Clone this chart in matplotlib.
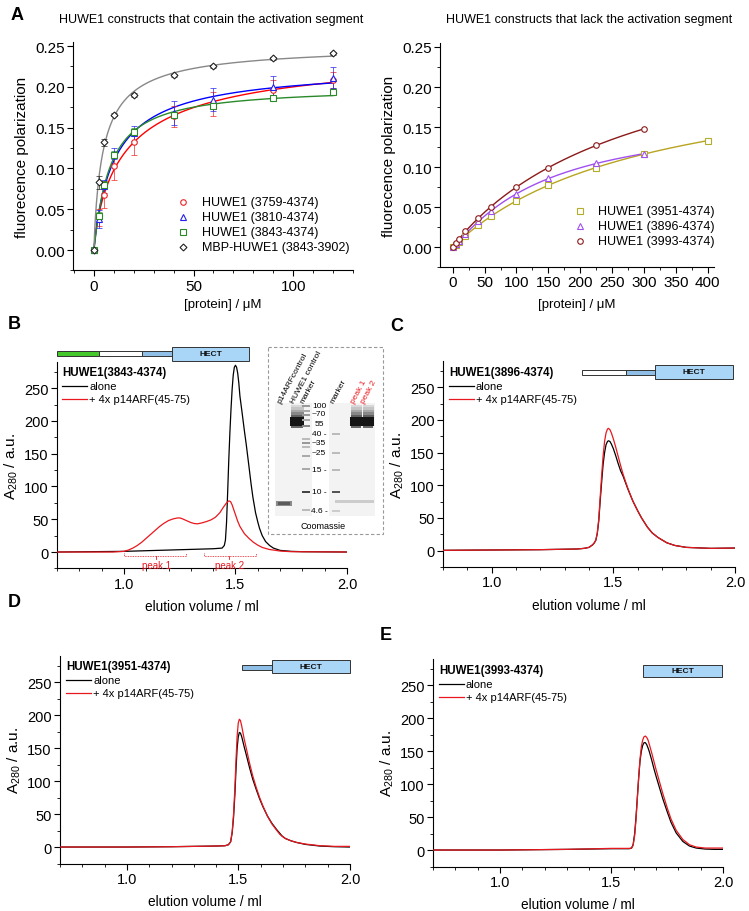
import numpy as np
import matplotlib
matplotlib.use('Agg')
import matplotlib.pyplot as plt
from matplotlib.patches import Rectangle
from matplotlib.ticker import MultipleLocator, FormatStrFormatter

plt.rcParams['font.family'] = ['Liberation Sans', 'DejaVu Sans']
plt.rcParams['mathtext.fontset'] = 'custom'
plt.rcParams['mathtext.rm'] = 'Liberation Sans'
plt.rcParams['mathtext.it'] = 'Liberation Sans'

# ---------------- Panel A data ----------------
conc_left = [0, 2.5, 5, 10, 20, 40, 60, 90, 120]
fp_3759 = [0, 0.040, 0.068, 0.103, 0.132, 0.164, 0.179, 0.196, 0.208]
err_3759 = [0, 0.010, 0.017, 0.017, 0.016, 0.013, 0.015, 0.012, 0.010]
fp_3810 = [0, 0.038, 0.078, 0.118, 0.143, 0.168, 0.184, 0.200, 0.211]
err_3810 = [0, 0.011, 0.008, 0.007, 0.009, 0.015, 0.014, 0.013, 0.013]
fp_3843 = [0, 0.042, 0.080, 0.117, 0.145, 0.165, 0.176, 0.186, 0.194]
err_3843 = [0, 0.004, 0.004, 0.004, 0.005, 0.003, 0.003, 0.003, 0.002]
fp_mbp = [0, 0.083, 0.132, 0.166, 0.190, 0.214, 0.225, 0.235, 0.241]
err_mbp = [0, 0.008, 0.004, 0.002, 0.002, 0.002, 0.002, 0.002, 0.002]
labels_left = ['HUWE1 (3759-4374)', 'HUWE1 (3810-4374)', 'HUWE1 (3843-4374)', 'MBP-HUWE1 (3843-3902)']

conc_right = [0, 5, 10, 20, 40, 60, 100, 150, 225, 300]
conc_right_3951 = [0, 5, 10, 20, 40, 60, 100, 150, 225, 300, 400]
fp_3951 = [0, 0.003, 0.006, 0.014, 0.028, 0.039, 0.058, 0.077, 0.099, 0.116, 0.133]
fp_3896 = [0, 0.004, 0.008, 0.016, 0.032, 0.045, 0.066, 0.086, 0.105, 0.116]
fp_3993 = [0, 0.005, 0.010, 0.020, 0.036, 0.050, 0.075, 0.099, 0.128, 0.147]
labels_right = ['HUWE1 (3951-4374)', 'HUWE1 (3896-4374)', 'HUWE1 (3993-4374)']

# ---------------- Chromatograms (elution volume / ml, A280) ----------------
vB_black = [0.70, 1.00, 1.20, 1.30, 1.40, 1.44, 1.45, 1.455, 1.46, 1.465, 1.47, 1.475, 1.48, 1.485, 1.49,
            1.495, 1.50, 1.505, 1.51, 1.515, 1.52, 1.53, 1.54, 1.548, 1.56, 1.57, 1.578, 1.59, 1.60, 1.608,
            1.62, 1.635, 1.653, 1.67, 1.70, 1.75, 1.80, 2.00]
aB_black = [0, 1, 3, 4, 5, 6, 10, 18, 45, 91, 140, 182, 218, 248, 270,
            282, 285, 282, 273, 258, 238, 212, 185, 165, 132, 104, 84, 60, 46, 36,
            25, 16, 10, 6, 2.5, 1, 0.5, 0]
vB_red = [0.70, 0.95, 1.00, 1.02, 1.04, 1.06, 1.08, 1.10, 1.12, 1.14, 1.16, 1.18, 1.20, 1.22, 1.24, 1.25,
          1.26, 1.28, 1.30, 1.315, 1.33, 1.35, 1.37, 1.39, 1.41, 1.43, 1.445, 1.46, 1.47, 1.478, 1.485,
          1.49, 1.50, 1.51, 1.52, 1.54, 1.56, 1.58, 1.60, 1.62, 1.65, 1.70, 1.75, 2.00]
aB_red = [0, 0, 1, 3, 6, 10, 15, 21, 27, 33, 39, 44, 48, 50.5, 52, 52,
          51, 48, 45, 43.5, 43, 44.5, 46.5, 49, 53, 60, 68, 75, 78, 77, 72,
          67, 57, 47, 39, 28, 21, 15, 10.5, 7, 4, 1.5, 0.5, 0]

vC = [0.80, 1.00, 1.20, 1.35, 1.38, 1.40, 1.415, 1.422, 1.428, 1.434, 1.44, 1.446, 1.452, 1.458, 1.464,
      1.47, 1.476, 1.48, 1.486, 1.492, 1.50, 1.51, 1.52, 1.53, 1.54, 1.548, 1.56, 1.58, 1.60, 1.616,
      1.64, 1.66, 1.684, 1.72, 1.752, 1.80, 1.90, 2.00]
aC_black = [0.5, 1, 1.5, 2.5, 3.5, 5, 9, 12, 16, 26, 45, 76, 105, 132, 150,
            162, 167, 168, 167, 163, 156, 145, 133, 122, 114, 106, 94, 76, 61, 50,
            36, 27, 20, 12, 8, 5, 3.5, 4]
aC_red = [0.5, 1, 1.5, 2.5, 3.5, 5, 9, 12, 16, 27, 48, 82, 115, 145, 167,
          180, 186, 187, 185, 180, 171, 158, 144, 130, 117, 108, 95, 76, 61, 50,
          36, 27, 20, 12, 8, 5, 3.5, 4]

vD = [0.70, 1.00, 1.20, 1.40, 1.44, 1.455, 1.465, 1.472, 1.478, 1.484, 1.489, 1.494, 1.499, 1.504,
      1.509, 1.515, 1.525, 1.535, 1.55, 1.564, 1.58, 1.595, 1.61, 1.63, 1.65, 1.67, 1.685, 1.695,
      1.71, 1.735, 1.76, 1.80, 1.865, 1.93, 2.00]
aD_black = [0, 0, 0.5, 1.5, 2, 3.5, 8, 22, 45, 80, 118, 150, 167, 174,
            173, 167, 153, 140, 120, 103, 87, 73, 61, 47, 36, 27, 21, 17,
            13, 9.5, 7, 4, 1.5, 0.5, 0]
aD_red = [0, 0, 0.5, 1.5, 2, 3.5, 8, 24, 50, 90, 132, 168, 188, 194,
          192, 183, 165, 150, 127, 108, 90, 75, 62, 47, 35, 26, 19.5, 16.5,
          13, 9.5, 7, 4.5, 2, 1, 1]

vE = [0.70, 1.00, 1.30, 1.50, 1.58, 1.59, 1.597, 1.604, 1.61, 1.616, 1.622, 1.628, 1.634, 1.64, 1.646,
      1.652, 1.658, 1.664, 1.67, 1.68, 1.69, 1.70, 1.715, 1.73, 1.75, 1.767, 1.79, 1.82, 1.85, 1.88,
      1.92, 1.96, 2.00]
aE_black = [0, 0, 1, 2, 2, 3, 8, 25, 50, 80, 110, 135, 150, 159, 163,
            163, 160, 155, 149, 137, 124, 112, 95, 78, 58, 42, 26, 13, 6, 3,
            1.5, 1, 1]
aE_red = [0, 0, 1, 2.5, 2.5, 3, 7, 22, 46, 78, 110, 138, 157, 167, 172,
          173, 171, 167, 160, 148, 135, 122, 104, 86, 64, 47, 30, 16, 8, 4.5,
          3, 3, 3]

# ---------------- Gel inset (pixel layout) ----------------
gel_lane_labels = ['p14ARFcontrol', 'HUWE1 control', 'marker', 'marker', 'peak 1', 'peak 2']
gel_lane_x = [283, 297, 306, 336, 357, 367]
marker_kda = ['100', '~70', '55', '40 -', '~35', '~25', '15 -', '10 -', '4.6 -']
marker_y = [407, 415, 425, 435, 444, 454, 471, 493, 512]

W, H = 749, 912
fig = plt.figure(figsize=(W / 100, H / 100), dpi=100)


def add_ax(x0, x1, y0, y1):
    return fig.add_axes([x0 / W, 1 - y1 / H, (x1 - x0) / W, (y1 - y0) / H])


def style(ax, xmaj, xmin, ymaj, ymin, fs, xfmt, yfmt):
    for s in ['top', 'right']:
        ax.spines[s].set_visible(False)
    for s in ['left', 'bottom']:
        ax.spines[s].set_linewidth(0.8)
    ax.xaxis.set_major_locator(MultipleLocator(xmaj))
    ax.xaxis.set_minor_locator(MultipleLocator(xmin))
    ax.yaxis.set_major_locator(MultipleLocator(ymaj))
    ax.yaxis.set_minor_locator(MultipleLocator(ymin))
    ax.xaxis.set_major_formatter(FormatStrFormatter(xfmt))
    ax.yaxis.set_major_formatter(FormatStrFormatter(yfmt))
    ax.tick_params(which='major', direction='out', length=4, width=0.8, labelsize=fs, pad=2)
    ax.tick_params(which='minor', direction='out', length=2, width=0.6)


def fit_hill(x, y):
    """Least-squares Hill fit y = B x^n / (K^n + x^n) (grid over K, n; B closed form)."""
    x = np.asarray(x, float)[None, None, :]
    y = np.asarray(y, float)[None, None, :]
    K = np.logspace(-0.5, 3.5, 400)[:, None, None]
    n = np.linspace(0.5, 1.6, 45)[None, :, None]
    xn = x ** n
    f = xn / (K ** n + xn)
    B = np.sum(y * f, axis=2, keepdims=True) / np.sum(f * f, axis=2, keepdims=True)
    r = np.sum((y - B * f) ** 2, axis=2)
    i, j = np.unravel_index(np.argmin(r), r.shape)
    return K[i, 0, 0], n[0, j, 0], B[i, j, 0]


def hill_curve(x, y, npts=300):
    K, nn, B = fit_hill(x, y)
    xs = np.linspace(0, max(x), npts)
    return xs, B * xs ** nn / (K ** nn + xs ** nn)


# ---------------- Panel A left ----------------
axA = add_ax(73, 353, 43, 271.4)
axA.set_xlim(-10.5, 130)
axA.set_ylim(-0.025, 0.255)
style(axA, 50, 10, 0.05, 0.025, 11, '%d', '%.2f')
series_left = [
    (fp_3759, err_3759, 'o', '#ee2222', 'red'),
    (fp_3810, err_3810, '^', '#2222ee', 'blue'),
    (fp_3843, err_3843, 's', '#2a8a2a', '#2a8a2a'),
    (fp_mbp, err_mbp, 'D', '#222222', '#888888'),
]
for fp, er, mk, mc, lc in series_left:
    xs, ys = hill_curve(conc_left, fp)
    axA.plot(xs, ys, color=lc, lw=1.0, zorder=2)
    axA.errorbar(conc_left, fp, yerr=er, fmt='none', ecolor=mc, elinewidth=0.7, capsize=2, capthick=0.7,
                 alpha=0.7, zorder=3)
    axA.plot(conc_left, fp, ls='none', marker=mk, ms=4 if mk != 'D' else 3.5, mfc='white', mec=mc, mew=0.8,
             zorder=4)
axA.set_ylabel('fluorecence polarization', fontsize=11, labelpad=4)
axA.set_xlabel('[protein] / \u03bcM', fontsize=9.5, labelpad=6)
axA.xaxis.set_label_coords(0.536, -0.12)

# ---------------- Panel A right ----------------
axR = add_ax(440, 714, 44, 268)
axR.set_xlim(-20, 410)
axR.set_ylim(-0.025, 0.255)
style(axR, 50, 25, 0.05, 0.025, 11, '%d', '%.2f')
series_right = [
    (conc_right_3951, fp_3951, 's', '#b3ad2a', '#b8a520'),
    (conc_right, fp_3896, '^', '#a050f0', '#a050f0'),
    (conc_right, fp_3993, 'o', '#8b1a1a', '#8b1a1a'),
]
for xx, fp, mk, mc, lc in series_right:
    xs, ys = hill_curve(xx, fp)
    axR.plot(xs, ys, color=lc, lw=1.0, zorder=2)
    axR.plot(xx, fp, ls='none', marker=mk, ms=4, mfc='white', mec=mc, mew=0.8, zorder=4)
axR.set_ylabel('fluorecence polarization', fontsize=11, labelpad=4)
axR.set_xlabel('[protein] / \u03bcM', fontsize=9.5, labelpad=6)


# ---------------- Chromatogram panels ----------------
def chrom(box, xlim, vb, ab, vr, ar):
    ax = add_ax(*box)
    ax.set_xlim(*xlim)
    ax.set_ylim(-25, 290)
    style(ax, 0.5, 0.1, 50, 25, 10.5, '%.1f', '%d')
    ax.plot(vb, ab, color='black', lw=0.9, zorder=3, solid_joinstyle='round')
    ax.plot(vr, ar, color='#e8181e', lw=0.9, zorder=4, solid_joinstyle='round')
    ax.set_xlabel('elution volume / ml', fontsize=9.8, labelpad=6)
    ax.set_ylabel('A$_{280}$ / a.u.', fontsize=11, labelpad=3)
    return ax

axB = chrom((57, 347, 363, 569.4), (0.7, 2.0), vB_black, aB_black, vB_red, aB_red)
axC = chrom((443, 735, 362, 568), (0.8, 2.0), vC, aC_black, vC, aC_red)
axD = chrom((60, 350, 657, 864.5), (0.7, 2.0), vD, aD_black, vD, aD_red)
axE = chrom((433, 723, 660, 867.5), (0.7, 2.0), vE, aE_black, vE, aE_red)

# peak brackets in B
for (x0, x1, xc, lab) in [(1.0, 1.28, 1.145, 'peak 1'), (1.36, 1.593, 1.473, 'peak 2')]:
    axB.plot([x0, x0, x1, x1], [-2, -6, -6, -2], color='#e8181e', lw=0.6, ls=(0, (1, 1)))
    axB.plot([xc, xc], [-6, -11], color='#e8181e', lw=0.6)
    axB.text(xc, -12, lab, color='#e8181e', fontsize=7, ha='center', va='top')

# ---------------- Overlay (pixel coordinates) ----------------
ov = fig.add_axes([0, 0, 1, 1], zorder=10)
ov.set_xlim(0, W)
ov.set_ylim(H, 0)
ov.axis('off')
ov.patch.set_visible(False)

ov.text(211, 20, 'HUWE1 constructs that contain the activation segment', fontsize=9, ha='center', va='center')
ov.text(589, 20, 'HUWE1 constructs that lack the activation segment', fontsize=9, ha='center', va='center')
for lt, x, y in [('A', 17, 15), ('B', 14, 325), ('C', 397, 327), ('D', 14, 603), ('E', 386, 636)]:
    ov.text(x, y, lt, fontsize=13, fontweight='bold', ha='center', va='center')

for i, (lab, (fp, er, mk, mc, lc)) in enumerate(zip(labels_left, series_left)):
    y = 203 + 15 * i
    ov.plot([183], [y], marker=mk, ms=4 if mk != 'D' else 3.5, mfc='white', mec=mc, mew=0.8)
    ov.text(202, y, lab, fontsize=9, ha='left', va='center')
for i, (lab, (xx, fp, mk, mc, lc)) in enumerate(zip(labels_right, series_right)):
    y = 212 + 15 * i
    ov.plot([580], [y], marker=mk, ms=4, mfc='white', mec=mc, mew=0.8)
    ov.text(598, y, lab, fontsize=9, ha='left', va='center')

for title, x, y in [('HUWE1(3843-4374)', 62, 373), ('HUWE1(3896-4374)', 449, 373),
                    ('HUWE1(3951-4374)', 66, 667), ('HUWE1(3993-4374)', 439, 671)]:
    ov.text(x, y, title, fontsize=8.3, fontweight='bold', ha='left', va='center')
    ov.plot([x, x + 25], [y + 14, y + 14], color='black', lw=0.9)
    ov.text(x + 27, y + 14, 'alone', fontsize=8, ha='left', va='center')
    ov.plot([x, x + 25], [y + 27, y + 27], color='#e8181e', lw=0.9)
    ov.text(x + 27, y + 27, '+ 4x p14ARF(45-75)', fontsize=8, ha='left', va='center')

GREEN, WHITE, LBLUE, HECTC = '#45c82a', 'white', '#8fbfe6', '#a9d5f7'


def seg(x0, x1, y0, y1, fc):
    ov.add_patch(Rectangle((x0, y0), x1 - x0, y1 - y0, fc=fc, ec='#333333', lw=0.7, zorder=11))


def hect(x0, x1, y0, y1):
    seg(x0, x1, y0, y1, HECTC)
    ov.text((x0 + x1) / 2, (y0 + y1) / 2, 'HECT', fontsize=6, fontweight='bold', ha='center', va='center',
            zorder=12, color='#111111')

seg(57, 99, 352, 357, GREEN)
seg(99, 142, 352, 357, WHITE)
seg(142, 172, 352, 357, LBLUE)
hect(172, 249, 348, 362)

seg(582, 626, 371, 375.5, WHITE)
seg(626, 655, 371, 375.5, LBLUE)
hect(655, 733, 366, 380)

seg(242, 272, 666, 670.5, LBLUE)
hect(272, 350, 661, 674)

hect(643, 722, 666, 678)

# ---------------- Gel inset ----------------
ov.add_patch(Rectangle((268, 348), 115, 187, fc='white', ec='#999999', lw=0.8, ls=(0, (3, 2)), zorder=11))
ov.add_patch(Rectangle((275, 404), 37, 113, fc='#f3f3f3', ec='none', zorder=11))
ov.add_patch(Rectangle((329, 404), 46, 113, fc='#f3f3f3', ec='none', zorder=11))


def band(x0, x1, y0, y1, c, z=12):
    ov.add_patch(Rectangle((x0, y0), x1 - x0, y1 - y0, fc=c, ec='none', zorder=z))

for lx0, lx1 in [(290, 304), (350, 362), (362, 374)]:
    for k, c in enumerate(['#d8d8d8', '#c4c4c4', '#a8a8a8', '#888888', '#606060']):
        band(lx0 + 0.5, lx1 - 0.5, 406 + 2.4 * k, 408.4 + 2.4 * k, c)
    band(lx0, lx1, 418, 427, '#151515')
    band(lx0 + 1, lx1 - 1, 426.5, 428.5, '#666666')
band(276, 292, 502, 507, '#8a8a8a')
band(278, 290, 503, 506, '#5a5a5a', 13)
band(335, 374, 501, 504, '#cccccc')
for yb, c in [(407, '#999999'), (412, '#aaaaaa'), (416, '#999999'), (421, '#aaaaaa'), (427, '#888888'),
              (440, '#bbbbbb'), (444, '#999999'), (448, '#bbbbbb'), (457, '#aaaaaa'), (470, '#aaaaaa'),
              (493, '#444444'), (511, '#bbbbbb')]:
    band(302, 310, yb - 1, yb + 1.3, c)
for yb, c in [(435, '#bbbbbb'), (454, '#bbbbbb'), (471, '#bbbbbb'), (493, '#555555'), (512, '#cccccc')]:
    band(332, 340, yb - 1, yb + 1.3, c)
for lab, y in zip(marker_kda, marker_y):
    ov.text(319, y, lab, fontsize=6, ha='center', va='center', zorder=13)
for i, (lab, x) in enumerate(zip(gel_lane_labels, gel_lane_x)):
    ov.text(x - 4, 403, lab, fontsize=6, rotation=62, rotation_mode='anchor', ha='left', va='center',
            color='#e8181e' if i >= 4 else 'black', zorder=13)
ov.text(323, 527, 'Coomassie', fontsize=6.5, ha='center', va='center', zorder=13)

fig.savefig('out.png', dpi=100)
